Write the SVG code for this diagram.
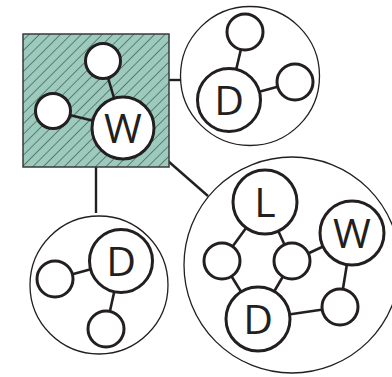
<svg xmlns="http://www.w3.org/2000/svg" width="392" height="377" viewBox="0 0 392 377">
  <style>
    .group { fill: none; stroke: #231f20; stroke-width: 1.3; }
    .node { fill: #ffffff; stroke: #231f20; stroke-width: 3; }
    .edge { stroke: #231f20; stroke-width: 2.6; fill: none; }
    .link { stroke: #231f20; stroke-width: 2.4; fill: none; }
    .label { font-family: "Open Sans", "Noto Sans", "Liberation Sans", sans-serif; font-size: 41px; fill: #231f20; text-anchor: middle; }
  </style>
  <defs>
    <pattern id="hatch" patternUnits="userSpaceOnUse" width="7.4" height="7.4" patternTransform="rotate(45)">
      <rect width="7.4" height="7.4" fill="#9ccabd"/>
      <line x1="0" y1="0" x2="0" y2="7.4" stroke="#1f2e2a" stroke-width="1"/>
    </pattern>
  </defs>

  <rect width="392" height="377" fill="#ffffff"/>

  <!-- links between clusters -->
  <g id="connectors">
    <line class="link" x1="169" y1="80" x2="181" y2="80"/>
    <line class="link" x1="168" y1="161" x2="208" y2="196"/>
    <line class="link" x1="96" y1="167" x2="96" y2="213"/>
  </g>

  <!-- cluster A: hatched square -->
  <g id="cluster-a">
    <rect x="23" y="34" width="146" height="133" fill="url(#hatch)" stroke="#3a3a3a" stroke-width="1.5"/>
    <line class="edge" x1="103" y1="61" x2="123" y2="128"/>
    <line class="edge" x1="53" y1="111" x2="123" y2="128"/>
    <circle class="node" cx="103" cy="61" r="17.5"/>
    <circle class="node" cx="53" cy="111" r="17.5"/>
    <circle class="node" cx="123" cy="128" r="31"/>
    <text class="label" x="123" y="143">W</text>
  </g>

  <!-- cluster B: top right -->
  <g id="cluster-b">
    <circle class="group" cx="250" cy="76" r="69.5"/>
    <line class="edge" x1="229" y1="100" x2="245" y2="32"/>
    <line class="edge" x1="229" y1="100" x2="295" y2="82"/>
    <circle class="node" cx="245" cy="32" r="18"/>
    <circle class="node" cx="295" cy="82" r="18"/>
    <circle class="node" cx="229" cy="100" r="31.5"/>
    <text class="label" x="229" y="115">D</text>
  </g>

  <!-- cluster C: bottom left -->
  <g id="cluster-c">
    <circle class="group" cx="99" cy="285" r="69"/>
    <line class="edge" x1="121" y1="261" x2="55" y2="279"/>
    <line class="edge" x1="121" y1="261" x2="106" y2="329"/>
    <circle class="node" cx="55" cy="279" r="18"/>
    <circle class="node" cx="106" cy="329" r="18"/>
    <circle class="node" cx="121" cy="261" r="31.5"/>
    <text class="label" x="121" y="276">D</text>
  </g>

  <!-- cluster D: large bottom right -->
  <g id="cluster-d">
    <circle class="group" cx="292" cy="265" r="108"/>
    <line class="edge" x1="265" y1="202" x2="222" y2="261"/>
    <line class="edge" x1="265" y1="202" x2="292" y2="261"/>
    <line class="edge" x1="222" y1="261" x2="258" y2="319"/>
    <line class="edge" x1="292" y1="261" x2="258" y2="319"/>
    <line class="edge" x1="292" y1="261" x2="352" y2="233"/>
    <line class="edge" x1="352" y1="233" x2="340" y2="307"/>
    <line class="edge" x1="340" y1="307" x2="258" y2="319"/>
    <circle class="node" cx="222" cy="261" r="18"/>
    <circle class="node" cx="292" cy="261" r="18"/>
    <circle class="node" cx="340" cy="307" r="18"/>
    <circle class="node" cx="265" cy="202" r="32"/>
    <text class="label" x="265" y="217">L</text>
    <circle class="node" cx="352" cy="233" r="32"/>
    <text class="label" x="352" y="248">W</text>
    <circle class="node" cx="258" cy="319" r="32"/>
    <text class="label" x="258" y="334">D</text>
  </g>
</svg>
